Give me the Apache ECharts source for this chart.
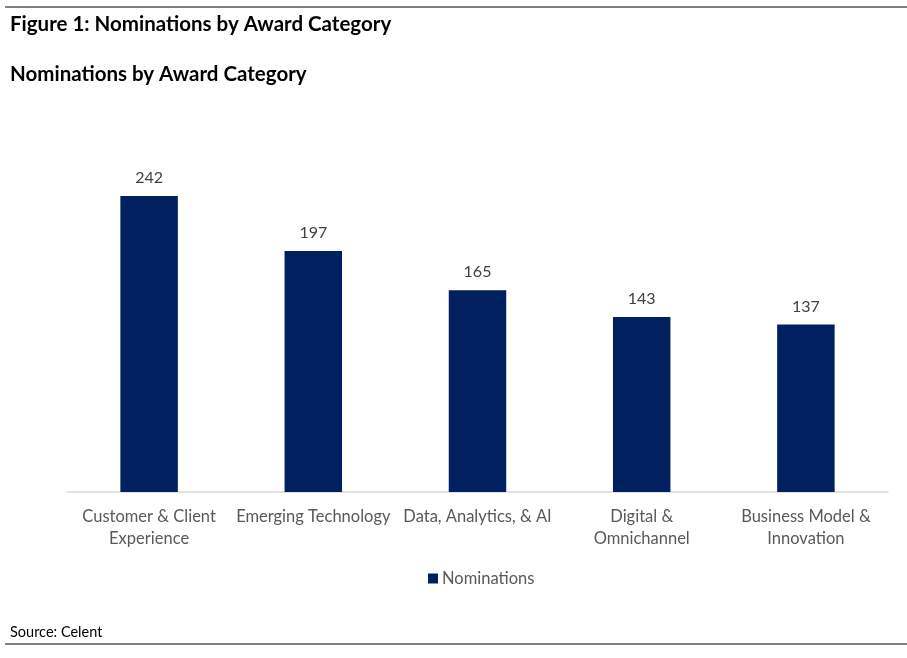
<!DOCTYPE html>
<html>
<head>
<meta charset="utf-8">
<script src="https://cdn.jsdelivr.net/npm/echarts@6/dist/echarts.min.js"></script>
<style>
  html, body { margin: 0; padding: 0; background: #fff; }
  #chart { width: 907px; height: 658px; }
</style>
</head>
<body>
<div id="chart"></div>
<script>
// 数据
var categories = ['Customer & Client\nExperience', 'Emerging Technology', 'Data, Analytics, & AI', 'Digital &\nOmnichannel', 'Business Model &\nInnovation'];
var nominations = [242, 197, 165, 143, 137];
var seriesName = 'Nominations';

var chart = echarts.init(document.getElementById('chart'));

var option = {
    textStyle: { fontFamily: 'Lato' },
    title: [
        {
            text: 'Figure 1: Nominations by Award Category',
            left: 5, top: 9,
            textStyle: { fontSize: 20.5, fontWeight: 'bold', color: '#000', fontFamily: 'Lato' }
        },
        {
            text: 'Nominations by Award Category',
            left: 5, top: 59,
            textStyle: { fontSize: 20.5, fontWeight: 'bold', color: '#000', fontFamily: 'Lato' }
        },
        {
            text: 'Source: Celent',
            left: 5, top: 620,
            textStyle: { fontSize: 14.5, fontWeight: 'normal', color: '#000', fontFamily: 'Lato' }
        }
    ],
    legend: {
        data: [seriesName],
        bottom: 66,
        left: 423,
        itemWidth: 10,
        itemHeight: 10,
        icon: 'rect',
        itemGap: 4,
        textStyle: { fontSize: 16.5, color: '#595959', padding: [0, 0, 0, -1] }
    },
    grid: { // 画布大小
        left: 67,
        right: 19,
        top: 125,
        bottom: 166,
        containLabel: false
    },
    xAxis: {
        type: 'category',
        data: categories,
        axisLine: { show: true, lineStyle: { color: '#d9d9d9', width: 1.5 } },
        axisTick: { show: false },
        axisLabel: {
            interval: 0,
            margin: 14,
            fontSize: 16.5,
            lineHeight: 22,
            color: '#595959'
        }
    },
    yAxis: {
        type: 'value',
        min: 0,
        max: 300,
        show: false,
        splitLine: { show: false }
    },
    series: [
        {
            name: seriesName,
            type: 'bar',
            data: nominations,
            barWidth: '35%',
            itemStyle: { color: '#002060' },
            label: {
                show: true,
                position: 'top',
                distance: 10,
                fontSize: 16,
                color: '#404040'
            }
        }
    ],
    graphic: [
        { type: 'line', shape: { x1: 5, y1: 7, x2: 907, y2: 7 }, style: { stroke: '#000', lineWidth: 1 } },
        { type: 'line', shape: { x1: 5, y1: 644, x2: 907, y2: 644 }, style: { stroke: '#000', lineWidth: 1 } }
    ]
};

chart.setOption(option);
</script>
</body>
</html>
